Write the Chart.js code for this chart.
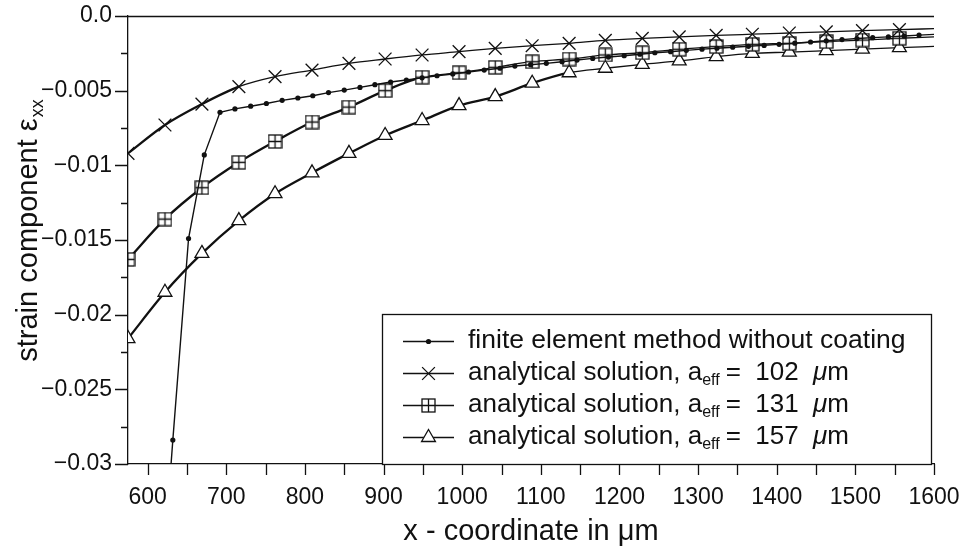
<!DOCTYPE html>
<html>
<head>
<meta charset="utf-8">
<script src="https://cdn.jsdelivr.net/npm/chart.js@4.4.1/dist/chart.umd.min.js"></script>
<style>
  html, body { margin: 0; padding: 0; background: #fff; }
</style>
</head>
<body>
<canvas id="strainChart" width="959" height="550"></canvas>
<script>
// finite element method without coating (dots)
const femX = [613, 632, 652, 672, 692, 711, 731, 751, 771, 791, 810, 830, 850, 870, 889, 909, 929, 949, 968, 988,
    1008, 1028, 1048, 1067, 1087, 1107, 1127, 1146, 1166, 1186, 1206, 1226, 1245, 1265, 1285, 1305, 1324, 1344, 1364, 1384,
    1403, 1423, 1443, 1463, 1483, 1502, 1522, 1542, 1562, 1581, 1600];
const femY = [-0.042, -0.0284, -0.0149, -0.0093, -0.00645, -0.00622, -0.00604, -0.00586, -0.00565, -0.00549,
    -0.00534, -0.00513, -0.00496, -0.00478, -0.0046, -0.00442, -0.00429, -0.00414, -0.004, -0.00388,
    -0.00375, -0.00362, -0.0035, -0.00335, -0.00326, -0.00317, -0.00306, -0.00295, -0.00284, -0.00275,
    -0.00266, -0.00256, -0.00246, -0.00239, -0.0023, -0.00222, -0.00216, -0.00209, -0.00203, -0.00197,
    -0.0019, -0.00182, -0.00174, -0.00166, -0.00158, -0.00151, -0.00145, -0.0014, -0.00134, -0.00128, -0.00123];

// analytical solutions, markers at the same x for all three (last point = line end)
const markX = [575, 622, 669, 716, 762, 809, 856, 902, 949, 996, 1042, 1089, 1136, 1182, 1229, 1276, 1323,
    1369, 1416, 1463, 1509, 1556, 1600];
const a102Y = [-0.0092, -0.0073, -0.0059, -0.00473, -0.00406, -0.00362, -0.00317, -0.00288, -0.00261, -0.00239,
    -0.00217, -0.00199, -0.00183, -0.00163, -0.0015, -0.0014, -0.0013, -0.00122, -0.00114, -0.00106,
    -0.00098, -0.00091, -0.00085];
const a131Y = [-0.0163, -0.0136, -0.0115, -0.0098, -0.0084, -0.0071, -0.0061, -0.005, -0.0041, -0.0038,
    -0.00344, -0.00306, -0.00288, -0.00261, -0.00246, -0.00223, -0.00205, -0.0019, -0.00183, -0.00172,
    -0.00161, -0.00149, -0.0014];
const a157Y = [-0.0216, -0.0185, -0.0159, -0.0137, -0.0119, -0.0105, -0.0092, -0.008, -0.007, -0.006,
    -0.0054, -0.0045, -0.0038, -0.0035, -0.00324, -0.00301, -0.00272, -0.0025, -0.00242, -0.00232,
    -0.00222, -0.00212, -0.00203];

const xTickLabels = [600, 700, 800, 900, 1000, 1100, 1200, 1300, 1400, 1500, 1600];
const yTickValues = [0, -0.005, -0.01, -0.015, -0.02, -0.025, -0.03];
const yTickLabels = ['0.0', '\u22120.005', '\u22120.01', '\u22120.015', '\u22120.02', '\u22120.025', '\u22120.03'];
const aeffValues = ['102', '131', '157'];

const FONT = '"Liberation Sans", Arial, sans-serif';
const INK = '#111';

function toPoints(xs, ys) {
    return xs.map((x, i) => ({ x: x, y: ys[i] }));
}

// square with a cross inside
function boxPlus(size) {
    const c = document.createElement('canvas');
    c.width = size;
    c.height = size;
    const g = c.getContext('2d');
    const m = size / 2;
    g.fillStyle = '#fff';
    g.fillRect(1, 1, size - 2, size - 2);
    g.strokeStyle = INK;
    g.lineWidth = 1.3;
    g.strokeRect(1, 1, size - 2, size - 2);
    g.beginPath();
    g.moveTo(m, 1);
    g.lineTo(m, size - 1);
    g.moveTo(1, m);
    g.lineTo(size - 1, m);
    g.stroke();
    return c;
}
const boxImg = boxPlus(15);

function drawMarker(ctx, kind, x, y) {
    ctx.save();
    ctx.strokeStyle = INK;
    ctx.fillStyle = INK;
    ctx.lineWidth = 1.3;
    if (kind === 'dot') {
        ctx.beginPath();
        ctx.arc(x, y, 2.6, 0, Math.PI * 2);
        ctx.fill();
    } else if (kind === 'cross') {
        const d = 6.4;
        ctx.beginPath();
        ctx.moveTo(x - d, y - d); ctx.lineTo(x + d, y + d);
        ctx.moveTo(x - d, y + d); ctx.lineTo(x + d, y - d);
        ctx.stroke();
    } else if (kind === 'box') {
        ctx.drawImage(boxImg, x - boxImg.width / 2, y - boxImg.height / 2);
    } else {
        const r = 8;
        ctx.beginPath();
        ctx.moveTo(x, y - r);
        ctx.lineTo(x + 0.866 * r, y + 0.5 * r);
        ctx.lineTo(x - 0.866 * r, y + 0.5 * r);
        ctx.closePath();
        ctx.fillStyle = '#fff';
        ctx.fill();
        ctx.stroke();
    }
    ctx.restore();
}

const decor = {
    id: 'decor',
    afterDraw(chart) {
        const ctx = chart.ctx;
        const a = chart.chartArea;
        const xs = chart.scales.x;
        const ys = chart.scales.y;
        ctx.save();
        ctx.strokeStyle = INK;
        ctx.lineWidth = 1.3;

        // top frame line and tick marks
        ctx.beginPath();
        ctx.moveTo(a.left, a.top + 0.5);
        ctx.lineTo(a.right, a.top + 0.5);
        for (let v = 600; v <= 1600; v += 50) {
            const px = Math.round(xs.getPixelForValue(v)) + 0.5;
            ctx.moveTo(px, a.bottom);
            ctx.lineTo(px, a.bottom + 11);
        }
        for (let i = 0; i <= 12; i++) {
            const py = Math.round(ys.getPixelForValue(-0.0025 * i)) + 0.5;
            const len = i % 2 === 0 ? 13 : 7;
            ctx.moveTo(a.left - len, py);
            ctx.lineTo(a.left, py);
        }
        ctx.stroke();

        // axis titles
        ctx.fillStyle = INK;
        ctx.textBaseline = 'alphabetic';
        ctx.font = '29px ' + FONT;
        ctx.textAlign = 'center';
        ctx.fillText('x - coordinate in \u03bcm', (a.left + a.right) / 2, 540);

        ctx.save();
        ctx.translate(26, 231);
        ctx.rotate(-Math.PI / 2);
        ctx.textAlign = 'left';
        const mainTxt = 'strain component \u03b5';
        ctx.font = '29px ' + FONT;
        const w1 = ctx.measureText(mainTxt).width;
        ctx.font = '18px ' + FONT;
        const w2 = ctx.measureText('xx').width;
        const x0 = -(w1 + w2) / 2;
        ctx.font = '29px ' + FONT;
        ctx.fillText(mainTxt, x0, 11);
        ctx.font = '18px ' + FONT;
        ctx.fillText('xx', x0 + w1 + 1, 17);
        ctx.restore();

        // legend box
        const L = { left: 382, top: 314, right: a.right - 3, bottom: a.bottom };
        ctx.fillStyle = '#fff';
        ctx.fillRect(L.left, L.top, L.right - L.left, L.bottom - L.top);
        ctx.strokeRect(L.left + 0.5, L.top + 0.5, L.right - L.left, L.bottom - L.top);

        const kinds = ['dot', 'cross', 'box', 'tri'];
        const rowY = [341, 373, 405, 437];
        const tx = 468;
        ctx.textAlign = 'left';
        ctx.textBaseline = 'middle';
        kinds.forEach((k, i) => {
            const y = rowY[i];
            ctx.beginPath();
            ctx.moveTo(403, y + 0.5);
            ctx.lineTo(454, y + 0.5);
            ctx.stroke();
            drawMarker(ctx, k, 428.5, y + 0.5);
            ctx.fillStyle = INK;
            if (i === 0) {
                ctx.font = '26.5px ' + FONT;
                ctx.fillText('finite element method without coating', tx, y);
                return;
            }
            let x = tx;
            ctx.font = '26px ' + FONT;
            const p1 = 'analytical solution, a';
            ctx.fillText(p1, x, y);
            x += ctx.measureText(p1).width;
            ctx.font = '16px ' + FONT;
            ctx.fillText('eff', x, y + 8);
            x += ctx.measureText('eff').width + 6;
            ctx.font = '26px ' + FONT;
            const p2 = '=  ' + aeffValues[i - 1] + '  ';
            ctx.fillText(p2, x, y);
            x += ctx.measureText(p2).width;
            ctx.font = 'italic 26px ' + FONT;
            ctx.fillText('\u03bc', x, y);
            x += ctx.measureText('\u03bc').width;
            ctx.font = '26px ' + FONT;
            ctx.fillText('m', x, y);
        });
        ctx.restore();
    }
};

const lastIdx = markX.length - 1;

const config = {
    type: 'line',
    data: {
        datasets: [
            {
                label: 'finite element method without coating',
                data: toPoints(femX, femY),
                borderColor: INK,
                backgroundColor: INK,
                borderWidth: 1.4,
                pointStyle: 'circle',
                pointRadius: ctx => (ctx.dataIndex === 0 || ctx.dataIndex === femX.length - 1) ? 0 : 2.6,
                pointBorderWidth: 0,
                tension: 0,
            },
            {
                label: 'analytical solution, a_eff = 102 \u03bcm',
                data: toPoints(markX, a102Y),
                borderColor: INK,
                backgroundColor: '#fff',
                borderWidth: 1.3,
                pointStyle: 'crossRot',
                pointRadius: ctx => ctx.dataIndex === lastIdx ? 0 : 9,
                pointBorderWidth: 1.3,
                cubicInterpolationMode: 'monotone',
                segment: { borderWidth: ctx => ctx.p1.parsed.x <= 750 ? 2.3 : 1.3 },
            },
            {
                label: 'analytical solution, a_eff = 131 \u03bcm',
                data: toPoints(markX, a131Y),
                borderColor: INK,
                backgroundColor: '#fff',
                borderWidth: 1.3,
                pointStyle: boxImg,
                pointRadius: ctx => ctx.dataIndex === lastIdx ? 0 : 7,
                cubicInterpolationMode: 'monotone',
                segment: { borderWidth: ctx => ctx.p1.parsed.x <= 950 ? 2.3 : 1.3 },
            },
            {
                label: 'analytical solution, a_eff = 157 \u03bcm',
                data: toPoints(markX, a157Y),
                borderColor: INK,
                backgroundColor: '#fff',
                borderWidth: 1.3,
                pointStyle: 'triangle',
                pointRadius: ctx => ctx.dataIndex === lastIdx ? 0 : 8,
                pointBorderWidth: 1.3,
                cubicInterpolationMode: 'monotone',
                segment: { borderWidth: ctx => ctx.p1.parsed.x <= 1136 ? 2.3 : 1.3 },
            },
        ],
    },
    options: {
        responsive: false,
        animation: false,
        devicePixelRatio: 1,
        layout: { padding: { top: 16, right: 25, left: 0, bottom: 0 } },
        plugins: {
            legend: { display: false },
            tooltip: { enabled: false },
        },
        scales: {
            x: {
                type: 'linear',
                min: 575,
                max: 1600,
                grid: { display: false, drawTicks: false },
                border: { display: true, color: INK, width: 1.3 },
                ticks: {
                    stepSize: 50,
                    includeBounds: false,
                    autoSkip: false,
                    maxRotation: 0,
                    padding: 20,
                    color: INK,
                    font: { family: FONT, size: 23 },
                    callback: v => xTickLabels.includes(v) ? String(v) : '',
                },
                afterFit: s => {
                    s.height = 86;
                    s.paddingLeft = 0;
                    s.paddingRight = 0;
                },
            },
            y: {
                type: 'linear',
                min: -0.03,
                max: 0,
                grid: { display: false, drawTicks: false },
                border: { display: true, color: INK, width: 1.3 },
                ticks: {
                    stepSize: 0.0025,
                    includeBounds: false,
                    autoSkip: false,
                    padding: 16,
                    color: INK,
                    font: { family: FONT, size: 23 },
                    callback: v => {
                        const i = yTickValues.findIndex(t => Math.abs(t - v) < 1e-7);
                        return i >= 0 ? yTickLabels[i] : '';
                    },
                },
                afterFit: s => {
                    s.width = 128;
                    s.paddingTop = 0;
                    s.paddingBottom = 0;
                },
            },
        },
    },
    plugins: [decor],
};

new Chart(document.getElementById('strainChart').getContext('2d'), config);
</script>
</body>
</html>
